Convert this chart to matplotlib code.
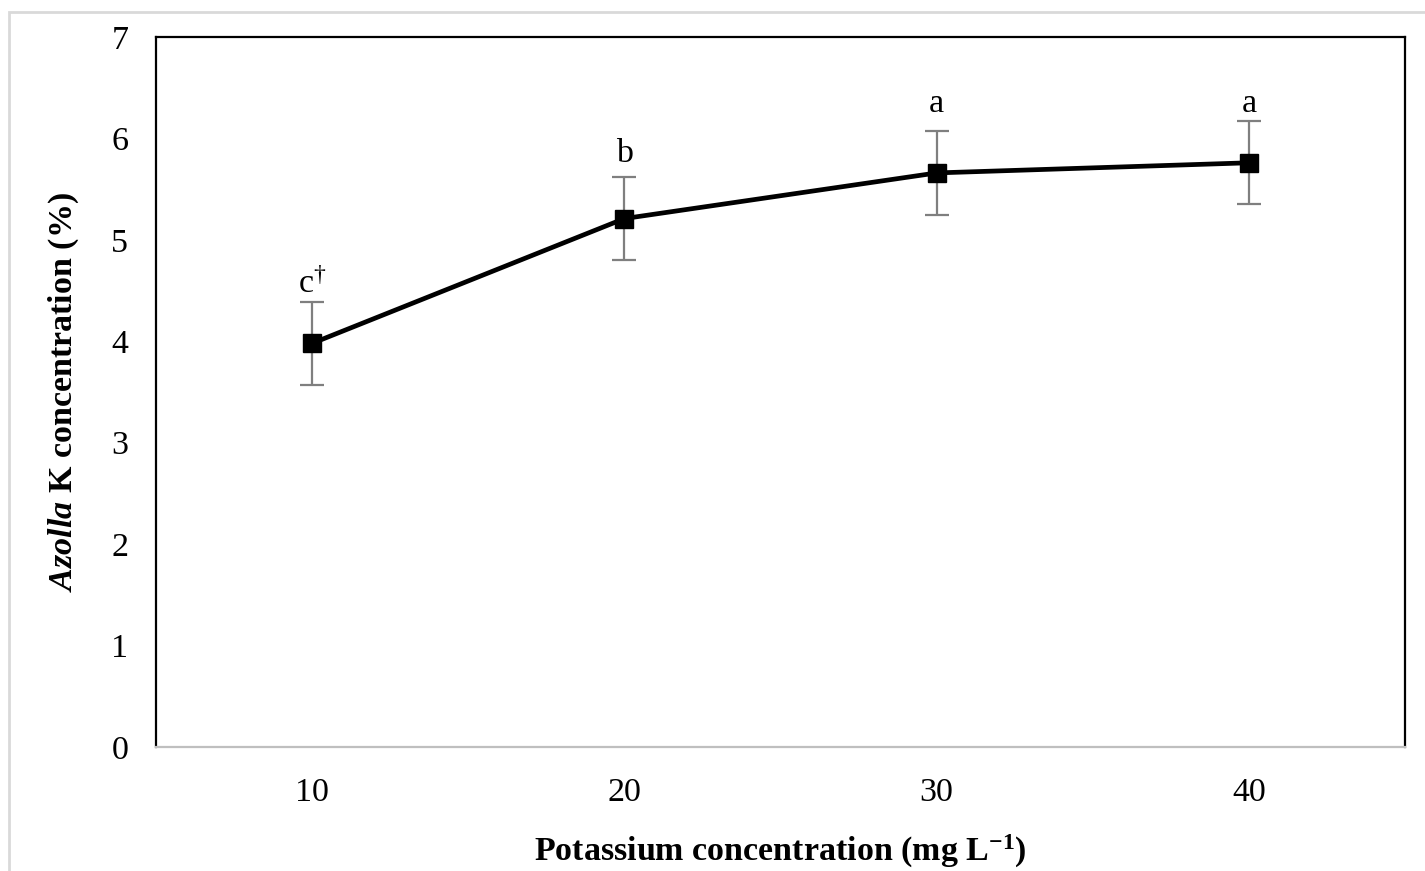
import matplotlib
matplotlib.use("Agg")
import matplotlib.pyplot as plt
from matplotlib.patches import Rectangle

# Data
potassium = [10, 20, 30, 40]
azolla_k = [3.98, 5.21, 5.66, 5.76]
azolla_err = [0.41, 0.41, 0.41, 0.41]
letters = ['c$^{\\mathrm{†}}$', 'b', 'a', 'a']
letter_y = [4.56, 5.85, 6.34, 6.34]
y_ticks = [0, 1, 2, 3, 4, 5, 6, 7]
x_ticks = [10, 20, 30, 40]

plt.rcParams['font.family'] = ['Liberation Serif', 'DejaVu Serif']
plt.rcParams['mathtext.fontset'] = 'custom'
plt.rcParams['mathtext.rm'] = 'Liberation Serif'
plt.rcParams['mathtext.it'] = 'Liberation Serif:italic'
plt.rcParams['mathtext.bf'] = 'Liberation Serif:bold'
plt.rcParams['mathtext.bfit'] = 'Liberation Serif:italic:bold'

fig = plt.figure(figsize=(14.25, 8.71), dpi=100)
ax = fig.add_axes([0.1095, 0.1424, 0.8765, 0.8151])

# light outer frame (partly clipped by the figure edge)
fig.add_artist(Rectangle((9 / 1425, -0.05), 1.1, 1 - 12 / 871 + 0.05,
                         transform=fig.transFigure, fill=False,
                         edgecolor='#d9d9d9', linewidth=2))

ax.errorbar(potassium, azolla_k, yerr=azolla_err, fmt='none',
            ecolor='#7f7f7f', elinewidth=1.6, capsize=8.5, capthick=1.6,
            zorder=2)
ax.plot(potassium, azolla_k, color='black', linewidth=3.4, marker='s',
        markersize=12.5, zorder=3)

for x, y, s in zip(potassium, letter_y, letters):
    ax.text(x, y, s, ha='center', va='center', fontsize=24.5)

ax.set_xlim(5, 45)
ax.set_ylim(0, 7)
ax.set_xticks(x_ticks)
ax.set_yticks(y_ticks)
ax.tick_params(length=0, labelsize=24.5)
ax.tick_params(axis='y', pad=20)
ax.tick_params(axis='x', pad=22)

for side in ['left', 'top', 'right']:
    ax.spines[side].set_color('black')
    ax.spines[side].set_linewidth(1.6)
ax.spines['bottom'].set_color('#bfbfbf')
ax.spines['bottom'].set_linewidth(1.6)

ax.set_xlabel('Potassium concentration (mg L$^{\\mathbf{-1}}$)',
              fontsize=24.5, fontweight='bold', labelpad=18)
ax.set_ylabel('$\\mathbfit{Azolla}$ K concentration (%)',
              fontsize=24.5, fontweight='bold', labelpad=22)

fig.savefig('out.png', dpi=100)
